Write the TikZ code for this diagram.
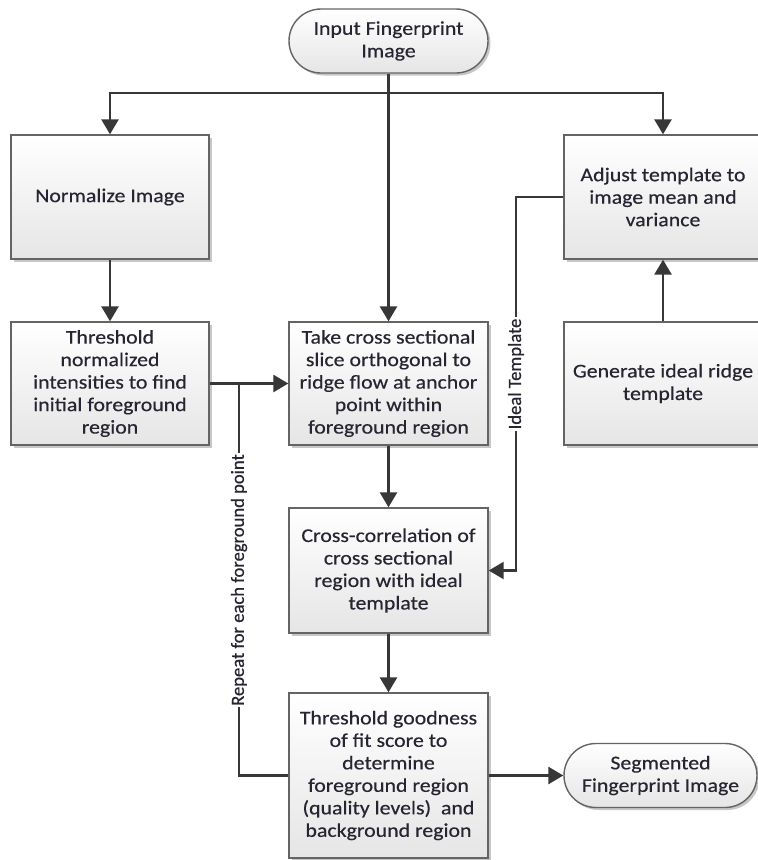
\documentclass[tikz,border=0pt]{standalone}
\usepackage{fontspec}
\setmainfont{Carlito}[FakeStretch=1.12, FakeBold=0.45]
\newfontfamily\labelfont{Carlito}[FakeBold=0.6]
\usetikzlibrary{arrows.meta,shapes.misc,shadows}

\definecolor{ink}{RGB}{38,38,50}
\definecolor{edge}{RGB}{100,100,100}
\definecolor{wire}{RGB}{55,55,55}

\tikzset{
  procbox/.style={draw=edge, line width=1.4pt, top color=white, bottom color=black!10,
    drop shadow={shadow xshift=2.5pt, shadow yshift=-2.5pt, fill=black!40, opacity=0.55},
    text=ink, align=center, inner sep=0pt, minimum width=198pt,
    font=\fontsize{19.5pt}{22.5pt}\selectfont},
  termbox/.style={procbox, rounded rectangle, minimum width=199pt, minimum height=64pt},
  flow/.style={draw=wire, line width=2.7pt},
  thinflow/.style={draw=wire, line width=2.2pt},
  arr/.style={flow, -{Triangle[length=15pt,width=17pt]}},
  thinarr/.style={thinflow, -{Triangle[length=15pt,width=17pt]}},
  tag/.style={fill=white, text=ink, inner sep=1.5pt, rotate=90,
    font=\labelfont\fontsize{18.6pt}{20pt}\selectfont},
}

\begin{document}
\begin{tikzpicture}[x=1pt, y=-1pt]
  \useasboundingbox (0,0) rectangle (758,860);
  \clip (0,0) rectangle (758,860);
  \fill[white] (0,0) rectangle (758,860);

  % process steps
  \node[termbox] (in) at (388.5,41) {Input Fingerprint\\Image};
  \node[procbox, minimum height=124pt] (nrm) at (110,197) {Normalize Image};
  \node[procbox, minimum height=124pt] (adj) at (663,197) {Adjust template to\\image mean and\\variance};
  \node[procbox, minimum height=123pt] (thr) at (110,383.5)
    {Threshold\\normalized\\intensities to find\\initial foreground\\region};
  \node[procbox, minimum height=123pt, minimum width=199pt] (take) at (388.5,383.5)
    {Take cross sectional\\slice orthogonal to\\ridge flow at anchor\\point within\\foreground region};
  \node[procbox, minimum height=123pt] (gen) at (663,383.5) {Generate ideal ridge\\template};
  \node[procbox, minimum height=125pt, minimum width=199pt] (xc) at (388.5,570.5)
    {Cross-correlation of\\cross sectional\\region with ideal\\template};
  \node[procbox, minimum height=165pt, minimum width=199pt] (fit) at (388.5,775.5)
    {Threshold goodness\\of fit score to\\determine\\foreground region\\(quality levels)~ and\\background region};
  \node[termbox, minimum width=193pt] (seg) at (660.5,775.5) {Segmented\\Fingerprint Image};

  % main flow
  \coordinate (split) at (388.5,93);
  \draw[flow] (in.south) -- (split);
  \draw[arr] (split) -| (nrm.north);
  \draw[arr] (split) -| (adj.north);
  \draw[arr] (split) -- (take.north);
  \draw[arr] (nrm) -- (thr);
  \draw[arr] (gen) -- (adj);
  \draw[arr] (thr) -- (take);
  \draw[arr] (take) -- (xc);
  \draw[arr] (xc) -- (fit);
  \draw[arr] (fit) -- (seg);

  % template feed and per-point loop
  \coordinate (tmplbend) at (516,197);
  \draw[thinarr] (adj.west) -- (tmplbend) |- (xc.east);
  \coordinate (loop) at (239,383.5);
  \draw[flow] (fit.west) -| (loop);

  \node[tag] (idealtag) at (516,374) {Ideal Template};
  \node[tag] (repeattag) at (239,580) {Repeat for each foreground point};
\end{tikzpicture}
\end{document}
